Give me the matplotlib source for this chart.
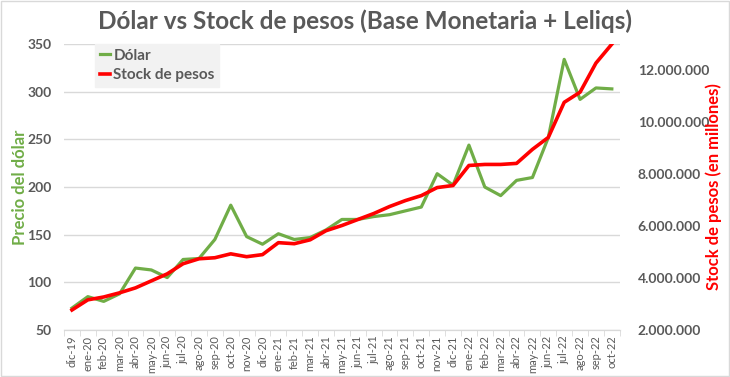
import numpy as np
import matplotlib
matplotlib.use("Agg")
import matplotlib.pyplot as plt
from matplotlib.ticker import FuncFormatter, FixedLocator

meses = ["dic-19", "ene-20", "feb-20", "mar-20", "abr-20", "may-20", "jun-20", "jul-20",
         "ago-20", "sep-20", "oct-20", "nov-20", "dic-20", "ene-21", "feb-21", "mar-21",
         "abr-21", "may-21", "jun-21", "jul-21", "ago-21", "sep-21", "oct-21", "nov-21",
         "dic-21", "ene-22", "feb-22", "mar-22", "abr-22", "may-22", "jun-22", "jul-22",
         "ago-22", "sep-22", "oct-22"]

dolar = [73, 85, 80, 88, 115, 113, 105, 124, 125, 145, 181, 148, 140, 151, 145, 147,
         155, 166, 166, 169, 171, 175, 179, 214, 202, 244, 200, 191, 207, 210, 252,
         334, 292, 304, 303]

stock = [2.77, 3.16, 3.27, 3.43, 3.62, 3.89, 4.16, 4.55, 4.74, 4.78, 4.93, 4.82, 4.90,
         5.36, 5.32, 5.47, 5.82, 6.02, 6.25, 6.48, 6.75, 6.98, 7.17, 7.48, 7.56, 8.33,
         8.37, 8.37, 8.41, 8.95, 9.41, 10.76, 11.15, 12.27, 13.0]
stock = [v * 1e6 for v in stock]

plt.rcParams['font.family'] = ['Lato', 'DejaVu Sans']
gris = '#595959'
verde = '#70AD47'
rojo = '#FF0000'

fig = plt.figure(figsize=(7.3, 3.77), dpi=100)
ax = fig.add_axes([0.0877, 0.1247, 0.7613, 0.7583])
ax2 = ax.twinx()

x = np.arange(len(meses))
l1, = ax.plot(x, dolar, color=verde, lw=2.3, label='Dólar', zorder=3)
l2, = ax2.plot(x, stock, color=rojo, lw=2.6, label='Stock de pesos', zorder=4)

ax.set_xlim(-0.5, len(meses) - 0.5)
ax.set_ylim(50, 350)
ax.set_yticks(range(50, 351, 50))
ax2.set_ylim(2e6, 13e6)
ax2.set_yticks(np.arange(2e6, 12.1e6, 2e6))
ax2.yaxis.set_major_formatter(FuncFormatter(lambda v, p: f"{int(v):,}".replace(",", ".")))

ax.set_xticks(x)
ax.set_xticklabels(meses, rotation=90, fontsize=8, color=gris)
ax.xaxis.set_minor_locator(FixedLocator(np.arange(-0.5, len(meses), 1)))
ax.tick_params(axis='x', which='major', length=0, pad=4)
ax.tick_params(axis='x', which='minor', length=4, color='#d9d9d9')

for a in (ax, ax2):
    for s in ('top', 'left', 'right'):
        a.spines[s].set_visible(False)
    a.spines['bottom'].set_color('#d9d9d9')
ax.tick_params(axis='y', length=0, labelsize=10, labelcolor=gris, pad=9)
ax2.tick_params(axis='y', length=0, labelsize=10, labelcolor=gris, pad=13)
for t in ax.get_yticklabels() + ax2.get_yticklabels():
    t.set_fontweight('bold')

ax.grid(axis='y', color='#d9d9d9', lw=1)
ax.set_axisbelow(True)

fig.text(20 / 730, 0.504, 'Precio del dólar', color=verde, fontsize=12, fontweight='bold',
         rotation=90, ha='center', va='center')
fig.text(714 / 730, 0.504, 'Stock de pesos (en millones)', color=rojo, fontsize=12,
         fontweight='bold', rotation=90, ha='center', va='center')

fig.suptitle('Dólar vs Stock de pesos (Base Monetaria + Leliqs)', x=0.5, y=0.975,
             fontsize=17.5, fontweight='bold', color=gris)

leg = ax.legend(handles=[l1, l2], loc='upper left', bbox_to_anchor=(0.056, 1.0),
                frameon=True, fancybox=False, facecolor='#F2F2F2', edgecolor='#F2F2F2',
                framealpha=1, handlelength=0.7, handletextpad=0.2, borderpad=0.3,
                labelspacing=0.35, borderaxespad=0, prop={'weight': 'bold', 'size': 11})
for t in leg.get_texts():
    t.set_color(gris)
leg.set_zorder(5)

fig.patches.append(plt.Rectangle((0.002, 0.003), 0.996, 0.994, transform=fig.transFigure,
                                 fill=False, edgecolor='#d9d9d9', lw=1))

fig.savefig('out.png', dpi=100)
